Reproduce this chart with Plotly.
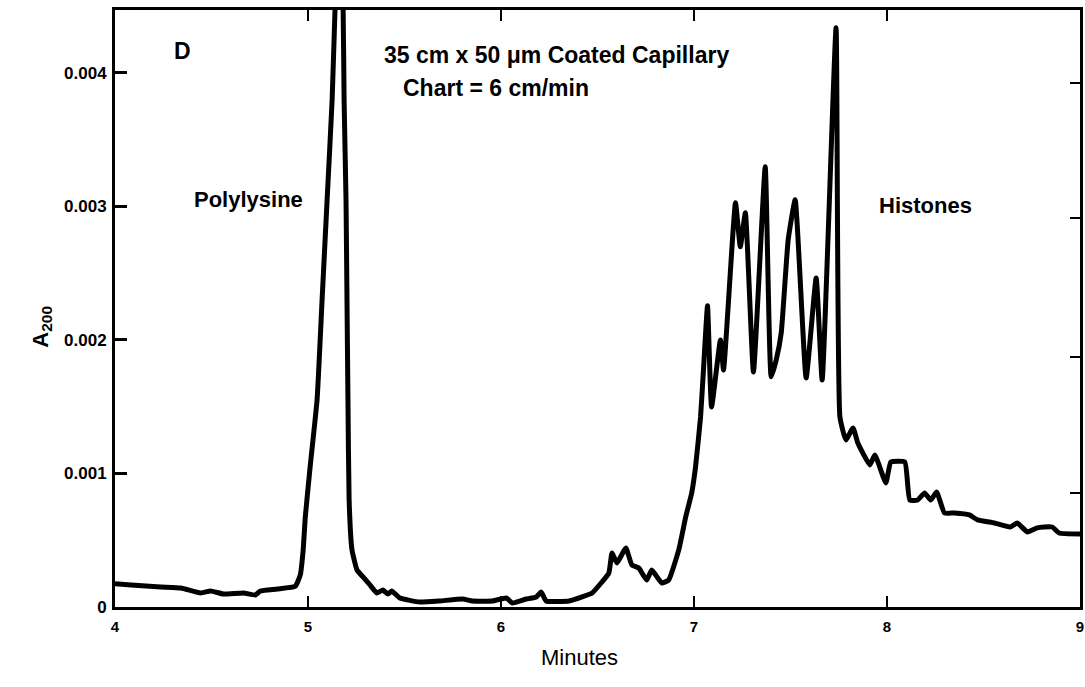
import plotly.graph_objects as go

# Electropherogram trace (time in minutes, absorbance at 200 nm)
time_min = [4.000, 4.083, 4.237, 4.341, 4.444, 4.495, 4.562, 4.666, 4.728, 4.753,
            4.841, 4.934, 4.960, 4.975, 4.986, 5.011, 5.047, 5.073, 5.099, 5.125,
            5.140, 5.161, 5.182, 5.187, 5.197, 5.202, 5.207, 5.213, 5.228, 5.254,
            5.285, 5.321, 5.357, 5.388, 5.414, 5.434, 5.476, 5.579, 5.682, 5.801,
            5.852, 5.956, 6.028, 6.059, 6.131, 6.183, 6.208, 6.234, 6.353, 6.420,
            6.472, 6.523, 6.559, 6.575, 6.601, 6.647, 6.678, 6.714, 6.755, 6.781,
            6.833, 6.869, 6.921, 6.957, 6.988, 7.008, 7.034, 7.050, 7.070, 7.091,
            7.137, 7.153, 7.215, 7.240, 7.266, 7.308, 7.369, 7.400, 7.426, 7.452,
            7.488, 7.524, 7.581, 7.633, 7.664, 7.736, 7.756, 7.787, 7.824, 7.849,
            7.911, 7.937, 7.994, 8.020, 8.092, 8.118, 8.159, 8.195, 8.226, 8.257,
            8.298, 8.350, 8.427, 8.469, 8.556, 8.639, 8.675, 8.727, 8.778, 8.814,
            8.856, 8.892, 9.000]
absorbance = [0.000175, 0.000165, 0.000150, 0.000142, 0.000105, 0.000120, 0.000097, 0.000105, 0.000090, 0.000120,
              0.000135, 0.000155, 0.000240, 0.000427, 0.000674, 0.001049, 0.001551, 0.002300, 0.003049, 0.003798,
              0.004472, 0.005200, 0.004472, 0.003798, 0.003049, 0.002300, 0.001551, 0.000801, 0.000427, 0.000277,
              0.000225, 0.000165, 0.000105, 0.000127, 0.000097, 0.000120, 0.000067, 0.000037, 0.000045, 0.000060,
              0.000045, 0.000045, 0.000067, 0.000030, 0.000060, 0.000075, 0.000112, 0.000045, 0.000045, 0.000075,
              0.000105, 0.000187, 0.000255, 0.000404, 0.000330, 0.000442, 0.000315, 0.000292, 0.000202, 0.000277,
              0.000180, 0.000202, 0.000427, 0.000674, 0.000854, 0.001049, 0.001423, 0.001798, 0.002255, 0.001498,
              0.002000, 0.001775, 0.003026, 0.002697, 0.002951, 0.001760, 0.003296, 0.001723, 0.001850, 0.002052,
              0.002749, 0.003049, 0.001715, 0.002464, 0.001700, 0.004337, 0.001423, 0.001251, 0.001341, 0.001228,
              0.001064, 0.001139, 0.000929, 0.001086, 0.001086, 0.000801, 0.000801, 0.000854, 0.000801, 0.000861,
              0.000704, 0.000704, 0.000689, 0.000652, 0.000629, 0.000599, 0.000629, 0.000562, 0.000592, 0.000599,
              0.000599, 0.000554, 0.000547]

x_ticks = [4, 5, 6, 7, 8, 9]
x_tick_labels = ["4", "5", "6", "7", "8", "9"]
y_ticks = [0, 0.001, 0.002, 0.003, 0.004]
y_tick_labels = ["0", "0.001", "0.002", "0.003", "0.004"]
right_ticks = [0.000854, 0.00187, 0.00291, 0.003925]

FONT = "Liberation Sans"
Y_MAX = 0.00447

fig = go.Figure()
fig.add_trace(go.Scatter(x=time_min, y=absorbance, mode="lines",
                         line=dict(color="black", width=5, shape="spline", smoothing=0.4),
                         showlegend=False, hoverinfo="skip"))
fig.add_trace(go.Scatter(x=[None], y=[None], yaxis="y2", mode="lines",
                         showlegend=False, hoverinfo="skip"))

fig.update_layout(
    width=1085, height=687,
    margin=dict(l=115, r=2, t=10, b=80),
    paper_bgcolor="white", plot_bgcolor="white",
    font=dict(family=FONT, color="black"),
    xaxis=dict(range=[4, 9], tickvals=x_ticks, ticktext=x_tick_labels,
               ticks="inside", ticklen=11, tickwidth=2, tickcolor="black",
               showline=True, linewidth=3, linecolor="black", mirror="ticks",
               showgrid=False, zeroline=False, ticklabelstandoff=4,
               tickfont=dict(size=15, family=FONT, weight="bold")),
    yaxis=dict(range=[0, Y_MAX], tickvals=y_ticks, ticktext=y_tick_labels,
               ticks="inside", ticklen=12, tickwidth=2.5, tickcolor="black",
               showline=True, linewidth=3, linecolor="black", mirror=True,
               showgrid=False, zeroline=False, ticklabelstandoff=2,
               tickfont=dict(size=17, family=FONT, weight="bold")),
    yaxis2=dict(range=[0, Y_MAX], overlaying="y", side="right",
                tickvals=right_ticks, showticklabels=False,
                ticks="inside", ticklen=10, tickwidth=2, tickcolor="black",
                showline=False, showgrid=False, zeroline=False),
)

ann = [
    dict(text="D", x=4.35, y=0.00416, xref="x", yref="y", showarrow=False,
         font=dict(size=23, weight="bold")),
    dict(text="35 cm x 50 \u03bcm Coated Capillary", x=5.384, y=0.004135, xref="x", yref="y",
         xanchor="left", showarrow=False, font=dict(size=23, weight="bold")),
    dict(text="Chart = 6 cm/min", x=5.482, y=0.003888, xref="x", yref="y",
         xanchor="left", showarrow=False, font=dict(size=23, weight="bold")),
    dict(text="Polylysine", x=4.398, y=0.003049, xref="x", yref="y",
         xanchor="left", showarrow=False, font=dict(size=22, weight="bold")),
    dict(text="Histones", x=7.946, y=0.003004, xref="x", yref="y",
         xanchor="left", showarrow=False, font=dict(size=22, weight="bold")),
    dict(text="Minutes", x=0.481, y=-0.109, xref="paper", yref="paper",
         showarrow=False, font=dict(size=22)),
    dict(text="A<sub>200</sub>", x=-0.092, y=0.47, xref="paper", yref="paper",
         textangle=-90, showarrow=False, font=dict(size=22, weight="bold")),
]
for a in ann:
    a["font"]["family"] = FONT
    a["font"]["color"] = "black"
fig.update_layout(annotations=ann)

fig.write_html("out.html")
